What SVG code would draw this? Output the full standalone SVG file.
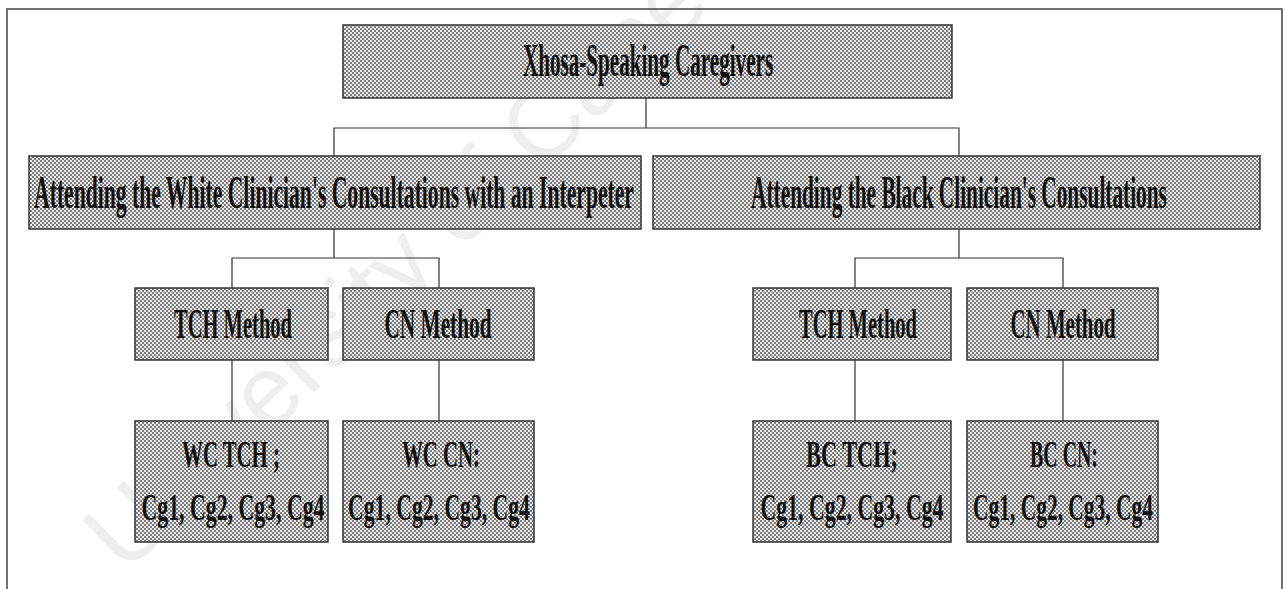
<svg xmlns="http://www.w3.org/2000/svg" width="1286" height="589" viewBox="0 0 1286 589">
<defs>
<pattern id="dots" width="4" height="4" patternUnits="userSpaceOnUse">
<rect width="4" height="4" fill="#ececec"/>
<rect x="0" y="0" width="2" height="2" fill="#7a7a7a"/>
<rect x="2" y="2" width="2" height="2" fill="#7a7a7a"/>
</pattern>
</defs>
<style>
.box{fill:url(#dots);stroke:#333;stroke-width:1.5}
.t{font-family:"Liberation Serif",serif;fill:#111;text-anchor:middle;font-weight:bold}
.conn{fill:none;stroke:#333;stroke-width:1.2}
.wm{font-family:"Liberation Sans",sans-serif;fill:#eeeeee;font-size:100px}
</style>
<rect width="1286" height="589" fill="#fff"/>
<text class="wm" transform="translate(125,575) rotate(-44)">University of Cape Town</text>
<path d="M7,589 V9 H1282 V589" fill="none" stroke="#444" stroke-width="1.5"/>
<g id="connectors">
<path class="conn" d="M646,98 V128 M334,156 V128 H959 V156"/>
<path class="conn" d="M334,229 V258 M232,288 V258 H439 V288"/>
<path class="conn" d="M959,229 V258 M855,288 V258 H1063 V288"/>
<path class="conn" d="M232,360 V421 M439,360 V421 M855,360 V421 M1063,360 V421"/>
</g>
<g id="n-top">
<rect class="box" x="343" y="25" width="609" height="73"/>
<text class="t" transform="translate(648,76) scale(0.45,1)" font-size="46" textLength="556" lengthAdjust="spacingAndGlyphs">Xhosa-Speaking Caregivers</text>
</g>
<g id="n-white">
<rect class="box" x="29" y="156" width="612" height="73"/>
<text class="t" transform="translate(334,208) scale(0.45,1)" font-size="46" textLength="1333" lengthAdjust="spacingAndGlyphs">Attending the White Clinician's Consultations with an Interpeter</text>
</g>
<g id="n-black">
<rect class="box" x="653" y="156" width="607" height="73"/>
<text class="t" transform="translate(959,208) scale(0.45,1)" font-size="46" textLength="924" lengthAdjust="spacingAndGlyphs">Attending the Black Clinician's Consultations</text>
</g>
<g id="n-wtch">
<rect class="box" x="135" y="288" width="193" height="72"/>
<text class="t" transform="translate(233,338) scale(0.52,1)" font-size="42" textLength="227" lengthAdjust="spacingAndGlyphs">TCH Method</text>
</g>
<g id="n-wcn">
<rect class="box" x="343" y="288" width="191" height="72"/>
<text class="t" transform="translate(438,338) scale(0.52,1)" font-size="42" textLength="206" lengthAdjust="spacingAndGlyphs">CN Method</text>
</g>
<g id="n-btch">
<rect class="box" x="753" y="288" width="198" height="72"/>
<text class="t" transform="translate(858,338) scale(0.52,1)" font-size="42" textLength="227" lengthAdjust="spacingAndGlyphs">TCH Method</text>
</g>
<g id="n-bcn">
<rect class="box" x="967" y="288" width="191" height="72"/>
<text class="t" transform="translate(1063,338) scale(0.52,1)" font-size="42" textLength="202" lengthAdjust="spacingAndGlyphs">CN Method</text>
</g>
<g id="n-wctch">
<rect class="box" x="135" y="421" width="193" height="121"/>
<text class="t" transform="translate(231,467) scale(0.6,1)" font-size="38" textLength="163" lengthAdjust="spacingAndGlyphs">WC TCH ;</text>
<text class="t" transform="translate(233,520) scale(0.6,1)" font-size="38" textLength="305" lengthAdjust="spacingAndGlyphs">Cg1, Cg2, Cg3, Cg4</text>
</g>
<g id="n-wccn">
<rect class="box" x="343" y="421" width="191" height="121"/>
<text class="t" transform="translate(441,467) scale(0.6,1)" font-size="38" textLength="130" lengthAdjust="spacingAndGlyphs">WC CN:</text>
<text class="t" transform="translate(439,520) scale(0.6,1)" font-size="38" textLength="303" lengthAdjust="spacingAndGlyphs">Cg1, Cg2, Cg3, Cg4</text>
</g>
<g id="n-bctch">
<rect class="box" x="753" y="421" width="198" height="121"/>
<text class="t" transform="translate(852,467) scale(0.6,1)" font-size="38" textLength="153" lengthAdjust="spacingAndGlyphs">BC TCH;</text>
<text class="t" transform="translate(852,520) scale(0.6,1)" font-size="38" textLength="305" lengthAdjust="spacingAndGlyphs">Cg1, Cg2, Cg3, Cg4</text>
</g>
<g id="n-bccn">
<rect class="box" x="967" y="421" width="191" height="121"/>
<text class="t" transform="translate(1064,467) scale(0.6,1)" font-size="38" textLength="113" lengthAdjust="spacingAndGlyphs">BC CN:</text>
<text class="t" transform="translate(1063,520) scale(0.6,1)" font-size="38" textLength="300" lengthAdjust="spacingAndGlyphs">Cg1, Cg2, Cg3, Cg4</text>
</g>
</svg>
